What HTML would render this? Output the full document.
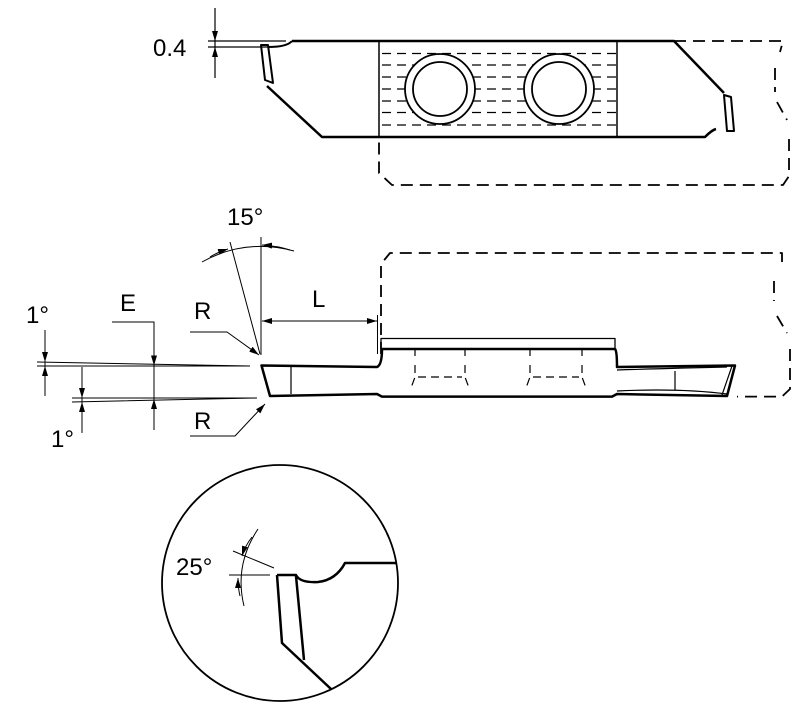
<!DOCTYPE html>
<html><head><style>html,body{margin:0;padding:0;background:#fff}svg{display:block}</style></head>
<body>
<svg width="800" height="709" viewBox="0 0 800 709" xmlns="http://www.w3.org/2000/svg" font-family="Liberation Sans, sans-serif">
<defs>
<marker id="a" viewBox="0 0 10 6" refX="10" refY="3" markerWidth="10" markerHeight="6" markerUnits="userSpaceOnUse" orient="auto"><path d="M0,0 L10,3 L0,6 z" fill="#000"/></marker>
</defs>
<g fill="none" stroke="#000" stroke-linejoin="round">
<!-- TOP VIEW -->
<path d="M292,41 L674,41 L724,93 M267,86 L322,137 L705,137 Q712,130 716,129" stroke-width="2.5"/>
<path d="M292,41 Q287,47 268,47" stroke-width="2"/>
<polygon points="261,45 268,45 273,83 265,80" stroke-width="2"/>
<polygon points="724,95 731,97 734,131 727,131" stroke-width="2"/>
<path d="M379,41 V137 M617,41 V137" stroke-width="1.5"/>
<g stroke-width="1.3" stroke-dasharray="9,6">
<path d="M382,53.5H617M382,65H617M382,77H617M382,89H617M382,101H617M382,112.5H617M382,125H617"/>
</g>
<g fill="#fff" stroke-width="1.8">
<circle cx="440" cy="89" r="35"/><circle cx="440" cy="89" r="27"/>
<circle cx="559" cy="89" r="35"/><circle cx="559" cy="89" r="27"/>
</g>
<path d="M674,41 H783 L780,52 M775,68 V92 M777,102 L787,120 M789,139 V176 L783,185 H392 L379,173 V137" stroke-width="1.8" stroke-dasharray="12,7"/>
<!-- 0.4 dim -->
<path d="M215,8 V78 M208,41 H286 M208,47 H268" stroke-width="1.2"/>
<path d="M215,25 V41" stroke-width="1" marker-end="url(#a)"/>
<path d="M215,64 V47" stroke-width="1" marker-end="url(#a)"/>

<!-- MIDDLE VIEW -->
<path d="M261.5,365.5 L377,367 Q382,365 382,349 L615,349 Q617,351 617,367 L735,365.5 L727,396 L617,394 L612,396.6 L382,396.6 L377,394 L270,396 Z" stroke-width="2.5"/>
<path d="M381,349 V338.5 H615 V349" stroke-width="1.3"/>
<path d="M291,367 V394 M675,371 V390 M732,366 L722,395 M617,370 Q680,368 727,367 M617,391 Q680,388 727,394" stroke-width="1.2"/>
<path d="M415,349V356M465,349V356M530,349V356M582,349V356" stroke-width="1.2"/>
<path d="M415,365 V377 L411,388 M465,365 V377 L469,388 M530,365 V377 L526,388 M582,365 V377 L586,388 M418,377 H462 M533,377 H579" stroke-width="1.2" stroke-dasharray="8,5"/>
<path d="M381,354 V264 L390,253 H782 L782,262 M774,281 V301 M777,316 L787,333 M790,349 V389 L782,396.6 H737" stroke-width="1.8" stroke-dasharray="12,7"/>
<!-- 15 deg -->
<path d="M261,237 V355 M230,242 L260,354" stroke-width="1"/>
<path d="M202,262 Q245,238 294,251" stroke-width="1"/>
<path d="M210,257 Q218,252 228,249" stroke-width="1" marker-end="url(#a)"/>
<path d="M290,250 Q278,246 262,245" stroke-width="1" marker-end="url(#a)"/>
<!-- L -->
<path d="M377.5,315 V354" stroke-width="1"/>
<path d="M320,321 H262" stroke-width="1" marker-end="url(#a)"/>
<path d="M320,321 H377" stroke-width="1" marker-end="url(#a)"/>
<!-- R leaders -->
<path d="M190,332 H227 L259,355" stroke-width="1" marker-end="url(#a)"/>
<path d="M190,436 H235 L265,404" stroke-width="1" marker-end="url(#a)"/>
<!-- E -->
<path d="M112,322 H154 V430" stroke-width="1"/>
<path d="M154,345 V365.5" stroke-width="1" marker-end="url(#a)"/>
<path d="M154,420 V399" stroke-width="1" marker-end="url(#a)"/>
<!-- 1 deg upper -->
<path d="M37,362 L250,366 M37,366 H250 M45,330 V396" stroke-width="1"/>
<path d="M45,345 V362" stroke-width="1" marker-end="url(#a)"/>
<path d="M45,384 V366" stroke-width="1" marker-end="url(#a)"/>
<!-- 1 deg lower -->
<path d="M72,398 H257 M72,402 L257,398 M82,367 V433" stroke-width="1"/>
<path d="M82,380 V398" stroke-width="1" marker-end="url(#a)"/>
<path d="M82,420 V402" stroke-width="1" marker-end="url(#a)"/>

<!-- CIRCLE DETAIL -->
<circle cx="280" cy="583" r="118" stroke-width="1.8"/>
<path d="M277,575 H296 Q300,583 318,582 Q336,580 345,563 H397" stroke-width="2.5"/>
<path d="M277,575 L282,643 L331,689 M296,576 L304,660" stroke-width="2.5"/>
<path d="M229,575 H270 M233,551 L274,568" stroke-width="1"/>
<path d="M258,529 Q234,565 244,606" stroke-width="1"/>
<path d="M252,537 Q245,546 242,556" stroke-width="1" marker-end="url(#a)"/>
<path d="M240,596 Q238,588 238,578" stroke-width="1" marker-end="url(#a)"/>
</g>
<g font-size="24" fill="#000">
<text x="153" y="56">0.4</text>
<text x="227" y="225">15°</text>
<text x="312" y="307">L</text>
<text x="194" y="319">R</text>
<text x="194" y="429">R</text>
<text x="120" y="311">E</text>
<text x="26" y="323">1°</text>
<text x="51" y="447">1°</text>
<text x="176" y="575">25°</text>
</g>
</svg>
</body></html>
